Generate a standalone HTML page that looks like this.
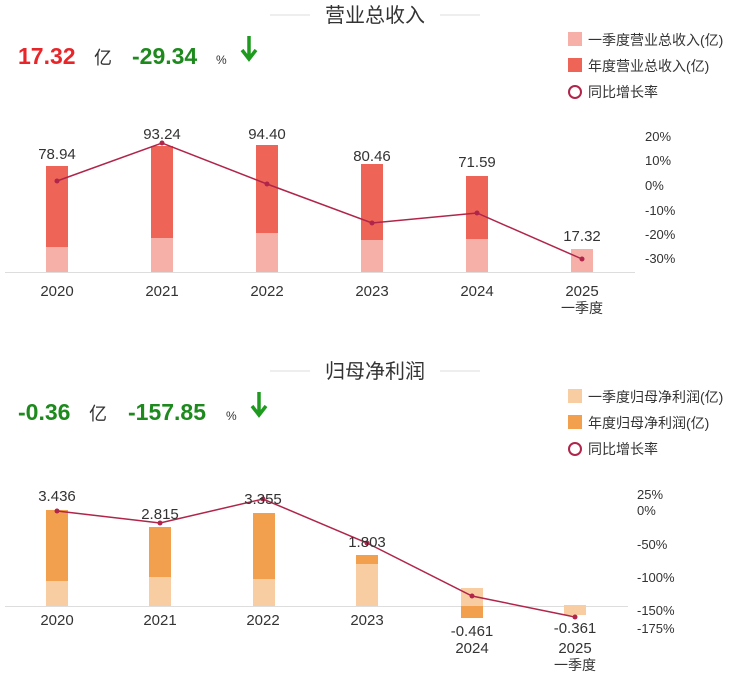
<!DOCTYPE html>
<html><head><meta charset="utf-8"><style>
body{margin:0;background:#fff;}
svg text{font-family:"Liberation Sans","Noto Sans CJK SC",sans-serif;}
</style></head><body>
<svg width="750" height="678" xmlns="http://www.w3.org/2000/svg">
<!-- Chart 1 -->
<line x1="270" y1="15" x2="310" y2="15" stroke="#ddd"/><line x1="440" y1="15" x2="480" y2="15" stroke="#ddd"/>
<text x="375" y="22" font-size="20" text-anchor="middle" fill="#333">营业总收入</text>
<text x="18" y="64" font-size="23" font-weight="bold" fill="#e8262a">17.32</text>
<text x="94" y="64" font-size="18" fill="#333">亿</text>
<text x="132" y="64" font-size="23" font-weight="bold" fill="#1e8a1e">-29.34</text>
<text x="216" y="64" font-size="12" fill="#333">%</text>
<path d="M249 36 L249 56 M242 50 L249 59 L256 50" stroke="#1e9a1e" stroke-width="3.5" fill="none"/>
<rect x="568" y="32" width="14" height="14" fill="#f7b0a8"/><text x="588" y="45" font-size="14" fill="#333">一季度营业总收入(亿)</text>
<rect x="568" y="58" width="14" height="14" fill="#ee6557"/><text x="588" y="71" font-size="14" fill="#333">年度营业总收入(亿)</text>
<circle cx="575" cy="92" r="6" fill="none" stroke="#b0254a" stroke-width="2"/><text x="588" y="97" font-size="14" fill="#333">同比增长率</text>
<line x1="5" y1="272.5" x2="635" y2="272.5" stroke="#ddd"/>
<g fill="#ee6557">
<rect x="46" y="166" width="22" height="81"/><rect x="151" y="146" width="22" height="92"/><rect x="256" y="145" width="22" height="88"/><rect x="361" y="164" width="22" height="76"/><rect x="466" y="176" width="22" height="63"/></g>
<g fill="#f7b0a8">
<rect x="46" y="247" width="22" height="25"/><rect x="151" y="238" width="22" height="34"/><rect x="256" y="233" width="22" height="39"/><rect x="361" y="240" width="22" height="32"/><rect x="466" y="239" width="22" height="33"/><rect x="571" y="249" width="22" height="23"/></g>
<polyline points="57,181 162,143 267,184 372,223 477,213 582,259" fill="none" stroke="#b0254a" stroke-width="1.5"/>
<g fill="#b0254a"><circle cx="57" cy="181" r="2.5"/><circle cx="162" cy="143" r="2.5"/><circle cx="267" cy="184" r="2.5"/><circle cx="372" cy="223" r="2.5"/><circle cx="477" cy="213" r="2.5"/><circle cx="582" cy="259" r="2.5"/></g>
<g font-size="15" fill="#333" text-anchor="middle">
<text x="57" y="159">78.94</text><text x="162" y="139">93.24</text><text x="267" y="139">94.40</text><text x="372" y="161">80.46</text><text x="477" y="167">71.59</text><text x="582" y="241">17.32</text>
<text x="57" y="296">2020</text><text x="162" y="296">2021</text><text x="267" y="296">2022</text><text x="372" y="296">2023</text><text x="477" y="296">2024</text><text x="582" y="296">2025</text><text x="582" y="313" font-size="14">一季度</text></g>
<g font-size="13" fill="#333">
<text x="645" y="141">20%</text><text x="645" y="165">10%</text><text x="645" y="190">0%</text><text x="645" y="215">-10%</text><text x="645" y="239">-20%</text><text x="645" y="263">-30%</text></g>
<!-- Chart 2 -->
<line x1="270" y1="371" x2="310" y2="371" stroke="#ddd"/><line x1="440" y1="371" x2="480" y2="371" stroke="#ddd"/>
<text x="375" y="378" font-size="20" text-anchor="middle" fill="#333">归母净利润</text>
<text x="18" y="420" font-size="23" font-weight="bold" fill="#1e8a1e">-0.36</text>
<text x="89" y="420" font-size="18" fill="#333">亿</text>
<text x="128" y="420" font-size="23" font-weight="bold" fill="#1e8a1e">-157.85</text>
<text x="226" y="420" font-size="12" fill="#333">%</text>
<path d="M259 392 L259 412 M252 406 L259 415 L266 406" stroke="#1e9a1e" stroke-width="3.5" fill="none"/>
<rect x="568" y="389" width="14" height="14" fill="#f9cda2"/><text x="588" y="402" font-size="14" fill="#333">一季度归母净利润(亿)</text>
<rect x="568" y="415" width="14" height="14" fill="#f3a04e"/><text x="588" y="428" font-size="14" fill="#333">年度归母净利润(亿)</text>
<circle cx="575" cy="449" r="6" fill="none" stroke="#b0254a" stroke-width="2"/><text x="588" y="454" font-size="14" fill="#333">同比增长率</text>
<line x1="5" y1="606.5" x2="628" y2="606.5" stroke="#ddd"/>
<g fill="#f3a04e">
<rect x="46" y="510" width="22" height="71"/><rect x="149" y="527" width="22" height="50"/><rect x="253" y="513" width="22" height="66"/><rect x="356" y="555" width="22" height="9"/><rect x="461" y="606" width="22" height="12"/></g>
<g fill="#f9cda2">
<rect x="46" y="581" width="22" height="25"/><rect x="149" y="577" width="22" height="29"/><rect x="253" y="579" width="22" height="27"/><rect x="356" y="564" width="22" height="42"/><rect x="461" y="588" width="22" height="18"/><rect x="564" y="605" width="22" height="10"/></g>
<polyline points="57,511 160,523 263,499 367,543 472,596 575,617" fill="none" stroke="#b0254a" stroke-width="1.5"/>
<g fill="#b0254a"><circle cx="57" cy="511" r="2.5"/><circle cx="160" cy="523" r="2.5"/><circle cx="263" cy="499" r="2.5"/><circle cx="367" cy="543" r="2.5"/><circle cx="472" cy="596" r="2.5"/><circle cx="575" cy="617" r="2.5"/></g>
<g font-size="15" fill="#333" text-anchor="middle">
<text x="57" y="501">3.436</text><text x="160" y="519">2.815</text><text x="263" y="504">3.355</text><text x="367" y="547">1.803</text><text x="472" y="636">-0.461</text><text x="575" y="633">-0.361</text>
<text x="57" y="625">2020</text><text x="160" y="625">2021</text><text x="263" y="625">2022</text><text x="367" y="625">2023</text><text x="472" y="653">2024</text><text x="575" y="653">2025</text><text x="575" y="670" font-size="14">一季度</text></g>
<g font-size="13" fill="#333">
<text x="637" y="499">25%</text><text x="637" y="515">0%</text><text x="637" y="549">-50%</text><text x="637" y="582">-100%</text><text x="637" y="615">-150%</text><text x="637" y="633">-175%</text></g>
</svg>
</body></html>
